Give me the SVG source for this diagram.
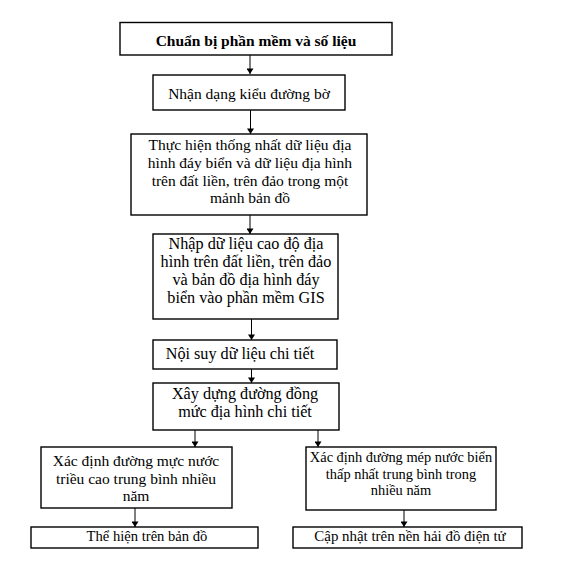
<svg xmlns="http://www.w3.org/2000/svg" width="576" height="562" viewBox="0 0 576 562">
<style>
.box{fill:#fff;stroke:#000;stroke-width:1.4}
text{font-family:"Liberation Serif","Times New Roman",serif;font-size:15.5px;fill:#000;text-anchor:middle}
.b{font-weight:bold}
.m{font-size:16.2px}
.s{font-size:14.6px}
.c{stroke:#000;stroke-width:1;fill:none;marker-end:url(#ah)}
</style>
<defs>
<marker id="ah" viewBox="0 0 8 10" refX="8" refY="5" markerWidth="8" markerHeight="7" orient="auto" markerUnits="userSpaceOnUse">
<path d="M0,0 L8,5 L0,10 z" fill="#000"/>
</marker>
</defs>
<rect width="576" height="562" fill="#fff"/>
<g id="connectors">
<line class="c" x1="250" y1="55" x2="250" y2="74"/>
<line class="c" x1="250.5" y1="110" x2="250.5" y2="134"/>
<line class="c" x1="250" y1="215" x2="250" y2="234"/>
<line class="c" x1="251.5" y1="319" x2="251.5" y2="340"/>
<line class="c" x1="251.5" y1="369" x2="251.5" y2="383"/>
<line class="c" x1="195" y1="430" x2="195" y2="447"/>
<line class="c" x1="318" y1="430" x2="318" y2="447"/>
<line class="c" x1="135" y1="508" x2="135" y2="527"/>
<line class="c" x1="404" y1="510" x2="404" y2="527"/>
</g>
<g id="n1"><rect class="box" x="120" y="22.5" width="272" height="32.5"/><text class="b" x="256" y="46">Chuẩn bị phần mềm và số liệu</text></g>
<g id="n2"><rect class="box" x="153" y="75" width="192" height="35"/><text x="249" y="99">Nhận dạng kiểu đường bờ</text></g>
<g id="n3"><rect class="box" x="131" y="134" width="236" height="81"/>
<text x="250" y="150">Thực hiện thống nhất dữ liệu địa</text>
<text x="250" y="168">hình đáy biển và dữ liệu địa hình</text>
<text x="250" y="185.5">trên đất liền, trên đảo trong một</text>
<text x="250" y="203">mảnh bản đồ</text></g>
<g id="n4"><rect class="box" x="153" y="234" width="185" height="85"/>
<text class="m" x="246" y="249">Nhập dữ liệu cao độ địa</text>
<text class="m" x="246" y="267">hình trên đất liền, trên đảo</text>
<text class="m" x="246" y="285">và bản đồ địa hình đáy</text>
<text class="m" x="246" y="303">biển vào phần mềm GIS</text></g>
<g id="n5"><rect class="box" x="153" y="340" width="184" height="29"/><text class="m" x="240" y="359">Nội suy dữ liệu chi tiết</text></g>
<g id="n6"><rect class="box" x="153" y="383" width="186" height="47"/>
<text class="m" x="245" y="399">Xây dựng đường đồng</text>
<text class="m" x="245" y="417">mức địa hình chi tiết</text></g>
<g id="n7"><rect class="box" x="41" y="447" width="191" height="61"/>
<text x="136" y="466">Xác định đường mực nước</text>
<text x="136" y="483.5">triều cao trung bình nhiều</text>
<text x="136" y="501">năm</text></g>
<g id="n8"><rect class="box" x="306" y="447" width="190" height="63"/>
<text style="font-size:14.4px" x="401" y="462">Xác định đường mép nước biển</text>
<text style="font-size:14.4px" x="401" y="478.5">thấp nhất trung bình trong</text>
<text style="font-size:14.4px" x="401" y="495">nhiều năm</text></g>
<g id="n9"><rect class="box" x="31" y="527" width="227" height="21"/><text class="s" x="147" y="541">Thể hiện trên bản đồ</text></g>
<g id="n10"><rect class="box" x="293" y="527" width="229" height="21"/><text style="font-size:14.9px" x="410" y="541">Cập nhật trên nền hải đồ điện tử</text></g>
</svg>
